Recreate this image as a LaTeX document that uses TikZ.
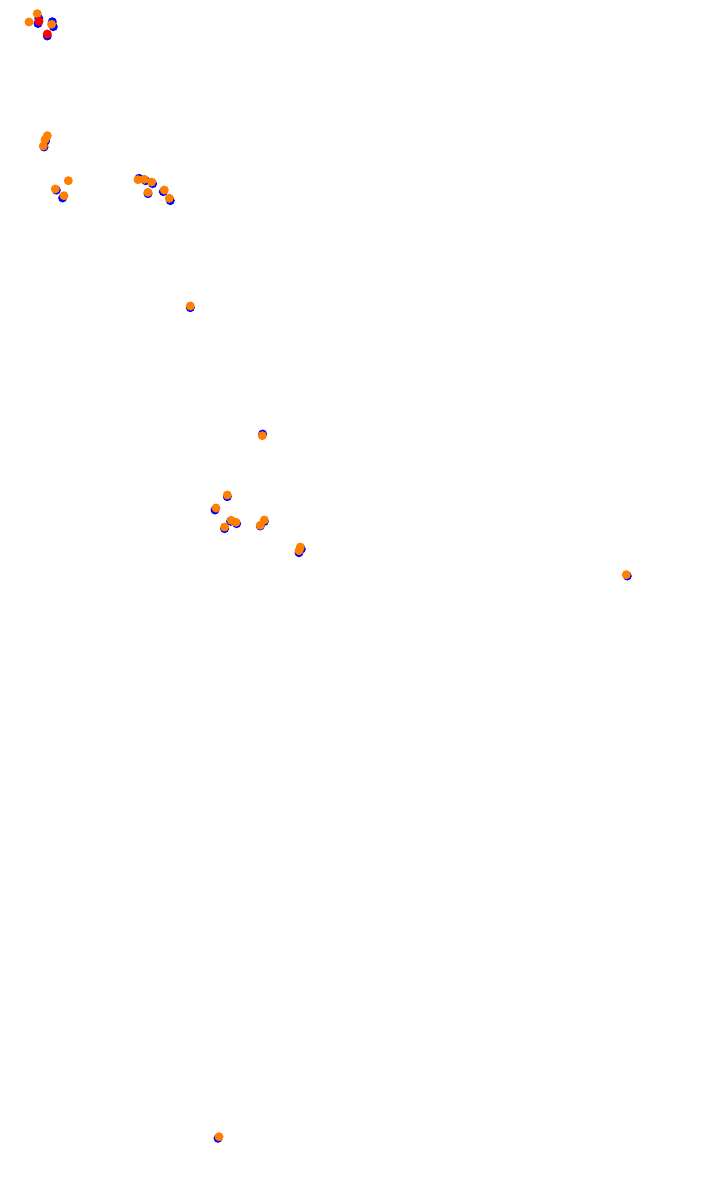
\documentclass[tikz,border=0pt]{standalone}
\tikzset{
  dotbase/.style={circle,inner sep=0pt,minimum size=9pt},
  bluedot/.style={dotbase,fill={rgb,255:red,0;green,0;blue,255}},
  orangedot/.style={dotbase,fill={rgb,255:red,255;green,128;blue,0}},
  reddot/.style={dotbase,fill={rgb,255:red,255;green,0;blue,0}}
}
\begin{document}
\begin{tikzpicture}[x=1pt,y=-1pt]
\useasboundingbox (0,0) rectangle (701,1196);
\begin{scope}[shift={(0.3,0)}]
% blue markers
\foreach \i/\x/\y in {1/37.7/23.5,2/38.5/18.5,3/52/21.7,4/53/26.7,5/47/36,
 6/45.3/141,7/43.7/147,8/56/190.2,9/62.3/198,10/138.7/178.3,11/145.3/180.7,12/152.3/183.7,13/147.7/193.7,14/163/191.7,15/170/200.6,
 16/190/307.7,17/262.3/434,18/227/496.7,19/214.7/510,20/224.3/528.7,21/230.3/521.3,22/236.3/523.7,23/264/521.5,24/260/526,25/301/549,26/298.7/552.7,27/627/576,28/217.7/1138.3}
  \node[bluedot] (b\i) at (\x,\y) {};
% orange markers
\foreach \i/\x/\y in {1/37/13.7,2/28.7/22,3/51.3/24.3,
 4/47/135.7,5/44.7/139.7,6/43/146,7/68/180.7,8/55/189,9/63.7/195.7,10/137.7/179.7,11/144/179.3,12/151.3/182,13/147.7/192.3,14/164/190,15/169/198.3,
 16/190/306,17/262/435.7,18/227/495,19/215.7/508,20/224.3/527,21/231/520.3,22/235.7/522.3,23/264/520,24/260/525.3,25/300/547,26/298.7/550.7,27/626/574.7,28/218.7/1136.7}
  \node[orangedot] (o\i) at (\x,\y) {};
% red markers
\node[reddot] (r1) at (38.7,21.3) {};
\node[reddot] (r2) at (47,34) {};
\end{scope}
\end{tikzpicture}
\end{document}
